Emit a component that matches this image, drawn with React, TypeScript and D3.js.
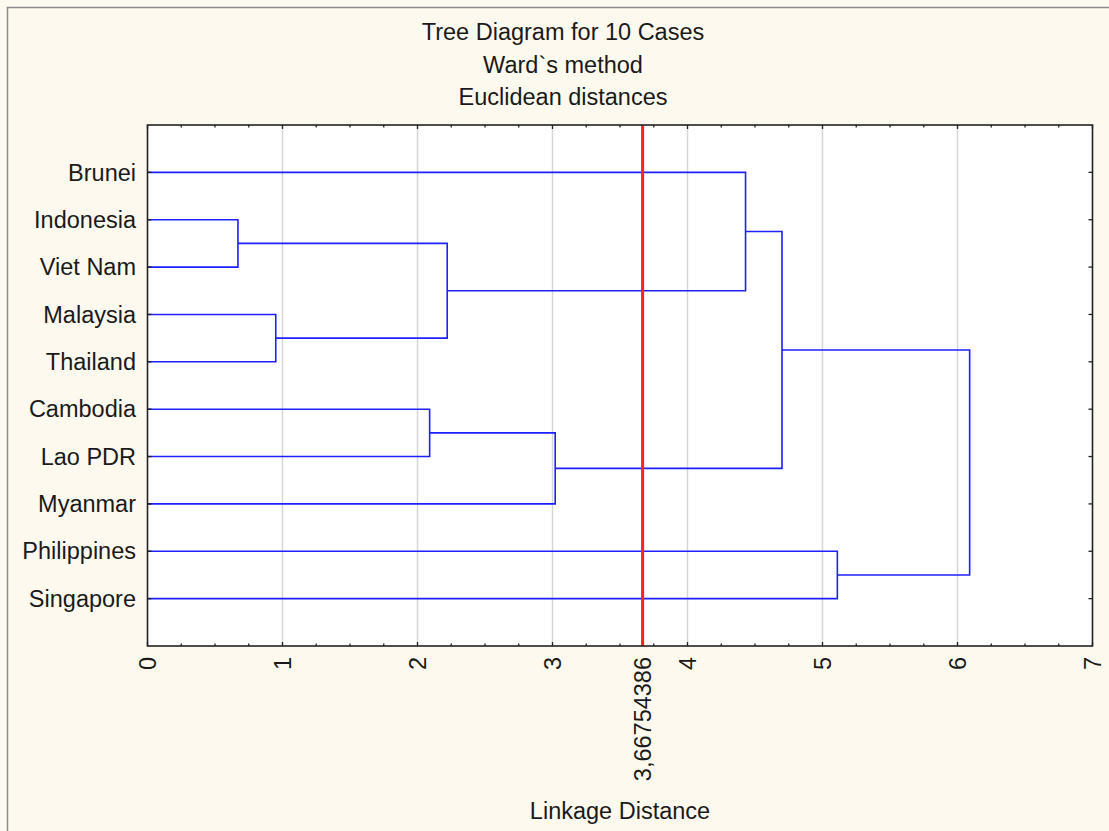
import { useEffect, useRef } from "react";
import * as d3 from "d3";

const TITLE_LINES = ["Tree Diagram for 10 Cases", "Ward`s method", "Euclidean distances"];
const LEAVES = ["Brunei", "Indonesia", "Viet Nam", "Malaysia", "Thailand", "Cambodia", "Lao PDR", "Myanmar", "Philippines", "Singapore"];
// node ids: 0..9 are leaves, 10+ are merges in order
const MERGE_LEFT = [1, 3, 10, 5, 13, 0, 15, 8, 16];
const MERGE_RIGHT = [2, 4, 11, 6, 7, 12, 14, 9, 17];
const MERGE_DIST = [0.67, 0.95, 2.22, 2.09, 3.02, 4.43, 4.70, 5.11, 6.09];
const X_TICKS = [0, 1, 2, 3, 4, 5, 6, 7];
const CUT = 3.66754386;
const CUT_LABEL = "3,66754386";

const W = 1109;
const H = 831;
const FONT = "'Liberation Sans', Arial, sans-serif";

export default function App() {
  const svgRef = useRef<SVGSVGElement>(null);

  useEffect(() => {
    if (!svgRef.current) return;
    const svg = d3.select(svgRef.current);
    svg.selectAll("*").remove();

    const plot = { left: 147.5, right: 1092.5, top: 125, bottom: 646 };

    // background + outer frame
    svg.append("rect").attr("width", W).attr("height", H).attr("fill", "#fef9ef");
    svg.append("rect")
      .attr("x", 7.5).attr("y", 7.5).attr("width", W + 10).attr("height", H + 10)
      .attr("fill", "none").attr("stroke", "#8a8a8a").attr("stroke-width", 1.5);

    const x = d3.scaleLinear().domain([0, 7]).range([plot.left, plot.right]);
    const y = d3.scalePoint<string>().domain(LEAVES).range([plot.top, plot.bottom]).padding(1);

    svg.append("rect")
      .attr("x", plot.left).attr("y", plot.top)
      .attr("width", plot.right - plot.left).attr("height", plot.bottom - plot.top)
      .attr("fill", "#ffffff");

    // titles
    svg.selectAll(".title")
      .data(TITLE_LINES)
      .enter().append("text")
      .attr("x", 563).attr("y", (_, i) => 40 + i * 32.5)
      .attr("text-anchor", "middle")
      .attr("font-family", FONT).attr("font-size", "23.5px").attr("fill", "#1a1a1a")
      .text((d) => d);

    // grid
    svg.selectAll(".grid")
      .data(X_TICKS.slice(1, -1))
      .enter().append("line")
      .attr("x1", (d) => x(d)).attr("x2", (d) => x(d))
      .attr("y1", plot.top).attr("y2", plot.bottom)
      .attr("stroke", "#d6d6d6").attr("stroke-width", 1.5);

    // dendrogram
    const nodeY: number[] = LEAVES.map((l) => y(l) as number);
    const nodeD: number[] = LEAVES.map(() => 0);
    const links: { a: number; b: number; d: number }[] = [];
    MERGE_DIST.forEach((d, i) => {
      const a = MERGE_LEFT[i];
      const b = MERGE_RIGHT[i];
      links.push({ a, b, d });
      nodeY.push((nodeY[a] + nodeY[b]) / 2);
      nodeD.push(d);
    });

    svg.selectAll(".link")
      .data(links)
      .enter().append("path")
      .attr("fill", "none").attr("stroke", "#1f1fff").attr("stroke-width", 1.6)
      .attr("d", (l) => {
        const p = d3.path();
        p.moveTo(x(nodeD[l.a]), nodeY[l.a]);
        p.lineTo(x(l.d), nodeY[l.a]);
        p.lineTo(x(l.d), nodeY[l.b]);
        p.lineTo(x(nodeD[l.b]), nodeY[l.b]);
        return p.toString();
      });

    // cut line
    svg.append("line")
      .attr("x1", x(CUT)).attr("x2", x(CUT))
      .attr("y1", plot.top).attr("y2", plot.bottom)
      .attr("stroke", "#ff1f1f").attr("stroke-width", 3);

    // plot frame
    svg.append("rect")
      .attr("x", plot.left).attr("y", plot.top)
      .attr("width", plot.right - plot.left).attr("height", plot.bottom - plot.top)
      .attr("fill", "none").attr("stroke", "#222").attr("stroke-width", 1.6);

    // x ticks (inward, top and bottom)
    const minor = d3.range(0, 7.001, 0.25);
    [plot.top, plot.bottom].forEach((edge, k) => {
      const dir = k === 0 ? 1 : -1;
      svg.selectAll(null)
        .data(minor)
        .enter().append("line")
        .attr("x1", (d) => x(d)).attr("x2", (d) => x(d))
        .attr("y1", edge).attr("y2", (d) => edge + dir * (Number.isInteger(d) ? 4 : 2.5))
        .attr("stroke", "#222").attr("stroke-width", 1.3);
    });

    // y ticks (inward, left and right)
    [plot.left, plot.right].forEach((edge, k) => {
      const dir = k === 0 ? 1 : -1;
      svg.selectAll(null)
        .data(LEAVES)
        .enter().append("line")
        .attr("x1", edge).attr("x2", edge + dir * 4)
        .attr("y1", (d) => y(d) as number).attr("y2", (d) => y(d) as number)
        .attr("stroke", "#222").attr("stroke-width", 1.3);
    });

    // leaf labels
    svg.selectAll(".leaf")
      .data(LEAVES)
      .enter().append("text")
      .attr("x", 136).attr("y", (d) => y(d) as number)
      .attr("dy", "0.35em").attr("text-anchor", "end")
      .attr("font-family", FONT).attr("font-size", "23.5px").attr("fill", "#1a1a1a")
      .text((d) => d);

    // x tick labels, rotated
    svg.selectAll(".xtl")
      .data(X_TICKS)
      .enter().append("text")
      .attr("transform", (d) => `translate(${x(d)},657) rotate(-90)`)
      .attr("dy", "0.35em").attr("text-anchor", "end")
      .attr("font-family", FONT).attr("font-size", "23.5px").attr("fill", "#1a1a1a")
      .text((d) => String(d));

    svg.append("text")
      .attr("transform", `translate(${x(CUT)},657) rotate(-90)`)
      .attr("dy", "0.35em").attr("text-anchor", "end")
      .attr("font-family", FONT).attr("font-size", "23.5px").attr("fill", "#1a1a1a")
      .text(CUT_LABEL);

    // axis title
    svg.append("text")
      .attr("x", 620).attr("y", 819)
      .attr("text-anchor", "middle")
      .attr("font-family", FONT).attr("font-size", "23.5px").attr("fill", "#1a1a1a")
      .text("Linkage Distance");
  }, []);

  return (
    <svg
      ref={svgRef}
      width={W}
      height={H}
      style={{ position: "absolute", left: 0, top: 0, display: "block" }}
    />
  );
}
